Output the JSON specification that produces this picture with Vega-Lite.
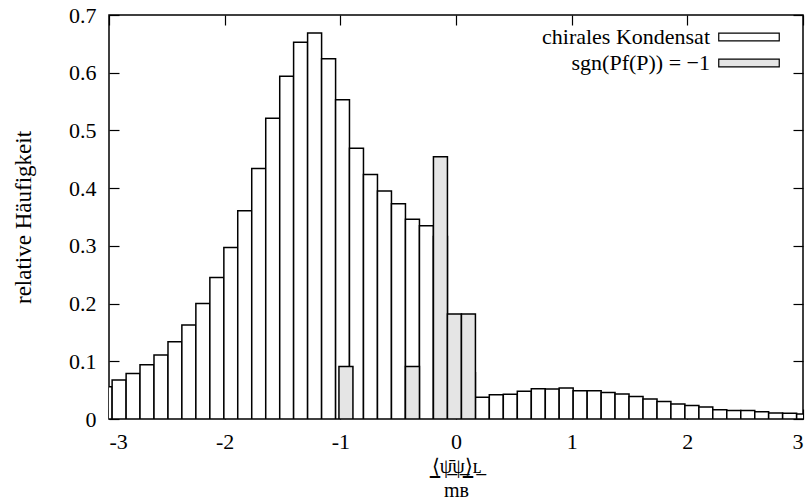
{
  "$schema": "https://vega.github.io/schema/vega-lite/v6.json",
  "width": 694,
  "height": 404,
  "autosize": {"type": "none"},
  "padding": {"left": 109, "top": 15, "right": 6, "bottom": 83},
  "background": "white",
  "config": {
    "font": "Liberation Serif",
    "view": {"stroke": "black", "strokeWidth": 1.5},
    "axis": {"grid": false, "domain": false, "tickColor": "black", "tickWidth": 1.2, "tickSize": -10, "labelColor": "black", "titleColor": "black", "labelFont": "Liberation Serif", "titleFont": "Liberation Serif", "labelFontSize": 22, "titleFontSize": 22, "titleFontWeight": "normal"},
    "legend": {"labelFont": "Liberation Serif", "labelFontSize": 22, "labelColor": "black", "padding": 0}
  },
  "datasets": {
    "bars": [
      {"s": "chirales Kondensat", "x0": -3.094, "x1": -2.973, "v": 0.056},
      {"s": "chirales Kondensat", "x0": -2.973, "x1": -2.852, "v": 0.0675},
      {"s": "chirales Kondensat", "x0": -2.852, "x1": -2.732, "v": 0.079},
      {"s": "chirales Kondensat", "x0": -2.732, "x1": -2.611, "v": 0.094},
      {"s": "chirales Kondensat", "x0": -2.611, "x1": -2.490, "v": 0.111},
      {"s": "chirales Kondensat", "x0": -2.490, "x1": -2.370, "v": 0.134},
      {"s": "chirales Kondensat", "x0": -2.370, "x1": -2.249, "v": 0.163},
      {"s": "chirales Kondensat", "x0": -2.249, "x1": -2.128, "v": 0.200},
      {"s": "chirales Kondensat", "x0": -2.128, "x1": -2.007, "v": 0.245},
      {"s": "chirales Kondensat", "x0": -2.007, "x1": -1.887, "v": 0.297},
      {"s": "chirales Kondensat", "x0": -1.887, "x1": -1.766, "v": 0.361},
      {"s": "chirales Kondensat", "x0": -1.766, "x1": -1.645, "v": 0.434},
      {"s": "chirales Kondensat", "x0": -1.645, "x1": -1.524, "v": 0.521},
      {"s": "chirales Kondensat", "x0": -1.524, "x1": -1.404, "v": 0.594},
      {"s": "chirales Kondensat", "x0": -1.404, "x1": -1.283, "v": 0.653},
      {"s": "chirales Kondensat", "x0": -1.283, "x1": -1.162, "v": 0.669},
      {"s": "chirales Kondensat", "x0": -1.162, "x1": -1.041, "v": 0.624},
      {"s": "chirales Kondensat", "x0": -1.041, "x1": -0.921, "v": 0.553},
      {"s": "chirales Kondensat", "x0": -0.921, "x1": -0.800, "v": 0.469},
      {"s": "chirales Kondensat", "x0": -0.800, "x1": -0.679, "v": 0.4235},
      {"s": "chirales Kondensat", "x0": -0.679, "x1": -0.558, "v": 0.395},
      {"s": "chirales Kondensat", "x0": -0.558, "x1": -0.437, "v": 0.373},
      {"s": "chirales Kondensat", "x0": -0.437, "x1": -0.316, "v": 0.346},
      {"s": "chirales Kondensat", "x0": -0.316, "x1": -0.195, "v": 0.335},
      {"s": "chirales Kondensat", "x0": -0.195, "x1": -0.074, "v": 0.316},
      {"s": "chirales Kondensat", "x0": -0.074, "x1": 0.047, "v": 0.17},
      {"s": "chirales Kondensat", "x0": 0.047, "x1": 0.168, "v": 0.08},
      {"s": "chirales Kondensat", "x0": 0.168, "x1": 0.288, "v": 0.0375},
      {"s": "chirales Kondensat", "x0": 0.288, "x1": 0.409, "v": 0.042},
      {"s": "chirales Kondensat", "x0": 0.409, "x1": 0.530, "v": 0.043},
      {"s": "chirales Kondensat", "x0": 0.530, "x1": 0.651, "v": 0.048},
      {"s": "chirales Kondensat", "x0": 0.651, "x1": 0.772, "v": 0.0525},
      {"s": "chirales Kondensat", "x0": 0.772, "x1": 0.892, "v": 0.052},
      {"s": "chirales Kondensat", "x0": 0.892, "x1": 1.013, "v": 0.0537},
      {"s": "chirales Kondensat", "x0": 1.013, "x1": 1.134, "v": 0.049},
      {"s": "chirales Kondensat", "x0": 1.134, "x1": 1.255, "v": 0.049},
      {"s": "chirales Kondensat", "x0": 1.255, "x1": 1.375, "v": 0.046},
      {"s": "chirales Kondensat", "x0": 1.375, "x1": 1.496, "v": 0.0433},
      {"s": "chirales Kondensat", "x0": 1.496, "x1": 1.617, "v": 0.039},
      {"s": "chirales Kondensat", "x0": 1.617, "x1": 1.738, "v": 0.0346},
      {"s": "chirales Kondensat", "x0": 1.738, "x1": 1.858, "v": 0.0305},
      {"s": "chirales Kondensat", "x0": 1.858, "x1": 1.979, "v": 0.026},
      {"s": "chirales Kondensat", "x0": 1.979, "x1": 2.100, "v": 0.0236},
      {"s": "chirales Kondensat", "x0": 2.100, "x1": 2.220, "v": 0.0208},
      {"s": "chirales Kondensat", "x0": 2.220, "x1": 2.341, "v": 0.0161},
      {"s": "chirales Kondensat", "x0": 2.341, "x1": 2.462, "v": 0.0149},
      {"s": "chirales Kondensat", "x0": 2.462, "x1": 2.583, "v": 0.0149},
      {"s": "chirales Kondensat", "x0": 2.583, "x1": 2.703, "v": 0.0126},
      {"s": "chirales Kondensat", "x0": 2.703, "x1": 2.824, "v": 0.0104},
      {"s": "chirales Kondensat", "x0": 2.824, "x1": 2.945, "v": 0.0098},
      {"s": "chirales Kondensat", "x0": 2.945, "x1": 3.066, "v": 0.0087},
      {"s": "sgn(Pf(P)) = −1", "x0": -1.012, "x1": -0.891, "v": 0.0909},
      {"s": "sgn(Pf(P)) = −1", "x0": -0.437, "x1": -0.316, "v": 0.0909},
      {"s": "sgn(Pf(P)) = −1", "x0": -0.195, "x1": -0.074, "v": 0.4545},
      {"s": "sgn(Pf(P)) = −1", "x0": -0.074, "x1": 0.047, "v": 0.1818},
      {"s": "sgn(Pf(P)) = −1", "x0": 0.047, "x1": 0.168, "v": 0.1818}
    ]
  },
  "data": {"name": "bars"},
  "layer": [
    {
      "transform": [{"filter": "datum.s === 'chirales Kondensat'"}],
      "mark": {"type": "rect", "stroke": "black", "strokeWidth": 1.5, "clip": true},
      "encoding": {
        "x": {"field": "x0", "type": "quantitative", "scale": {"domain": [-3, 3], "nice": false, "zero": false},
              "axis": {"orient": "bottom", "values": [-3, -2, -1, 0, 1, 2, 3], "labelExpr": "'' + datum.value", "labelPadding": 22, "title": ["⟨̲ψ̲̄ψ̲⟩̲ʟ̲", "mʙ"], "titleFontSize": 20, "titlePadding": 4, "titleLineHeight": 24}},
        "x2": {"field": "x1"},
        "y": {"field": "v", "type": "quantitative", "scale": {"domain": [0, 0.7], "nice": false},
              "axis": {"orient": "left", "values": [0, 0.1, 0.2, 0.3, 0.4, 0.5, 0.6, 0.7], "labelExpr": "'' + datum.value", "labelPadding": 23, "title": "relative Häufigkeit", "titleFontSize": 23, "titlePadding": 33}},
        "y2": {"datum": 0},
        "fill": {"field": "s", "type": "nominal",
                 "scale": {"domain": ["chirales Kondensat", "sgn(Pf(P)) = −1"], "range": ["white", "#e5e5e5"]},
                 "legend": {"title": null, "orient": "none", "legendX": 629, "legendY": 11, "symbolType": "M-5.5,-0.7L5.5,-0.7L5.5,0.7L-5.5,0.7Z", "symbolSize": 121, "symbolStrokeColor": "black", "symbolStrokeWidth": 1.2, "labelAlign": "right", "labelOffset": -50, "rowPadding": 4, "labelLimit": 400}}
      }
    },
    {
      "transform": [{"filter": "datum.s !== 'chirales Kondensat'"}],
      "mark": {"type": "rect", "stroke": "black", "strokeWidth": 1.5, "clip": true},
      "encoding": {
        "x": {"field": "x0", "type": "quantitative", "axis": {"orient": "top", "values": [-3, -2, -1, 0, 1, 2, 3], "labels": false, "title": null}},
        "x2": {"field": "x1"},
        "y": {"field": "v", "type": "quantitative", "axis": {"orient": "right", "values": [0, 0.1, 0.2, 0.3, 0.4, 0.5, 0.6, 0.7], "labels": false, "title": null}},
        "y2": {"datum": 0},
        "fill": {"field": "s", "type": "nominal"}
      }
    }
  ],
  "resolve": {"axis": {"x": "independent", "y": "independent"}}
}
